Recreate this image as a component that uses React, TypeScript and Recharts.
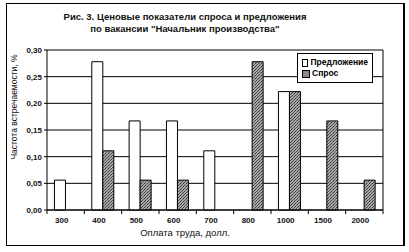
import React from "react";
import {
  BarChart,
  Bar,
  XAxis,
  YAxis,
  CartesianGrid,
} from "recharts";

const categories = ["300", "400", "500", "600", "700", "800", "1000", "1500", "2000"];
const supply = [0.056, 0.278, 0.167, 0.167, 0.111, null, 0.222, null, null];
const demand = [null, 0.111, 0.056, 0.056, null, 0.278, 0.222, 0.167, 0.056];
const yTicks = [0, 0.05, 0.1, 0.15, 0.2, 0.25, 0.3];
const boundaryTicks = [0, 1, 2, 3, 4, 5, 6, 7, 8, 9];

const FONT = '"Liberation Sans", Arial, sans-serif';

const data = categories.map((c, i) => ({
  cat: c,
  idx: i + 0.5,
  supply: supply[i],
  demand: demand[i],
}));

const fmt = (v: number) => v.toFixed(2).replace(".", ",");

export default function App() {
  return (
    <div style={{ position: "relative", width: 409, height: 252, background: "#fff" }}>
      <style>{"body{margin:0}"}</style>
      <div
        style={{
          position: "absolute",
          left: 6,
          top: 3,
          width: 396,
          height: 241,
          border: "1px solid #000",
          borderRightWidth: 2,
        }}
      />
      <div
        style={{
          position: "absolute",
          left: 0,
          top: 11,
          width: 370,
          textAlign: "center",
          fontFamily: FONT,
          fontSize: 9.5,
          fontWeight: "bold",
          lineHeight: "12px",
          color: "#111",
        }}
      >
        Рис. 3. Ценовые показатели спроса и предложения
        <br />
        по вакансии "Начальник производства"
      </div>
      <div
        style={{
          position: "absolute",
          left: 14,
          top: 107,
          transform: "translate(-50%, -50%) rotate(-90deg)",
          whiteSpace: "nowrap",
          fontFamily: FONT,
          fontSize: 8.5,
          color: "#111",
        }}
      >
        Частота встречаемости, %
      </div>
      <div
        style={{
          position: "absolute",
          left: 0,
          top: 227,
          width: 370,
          textAlign: "center",
          fontFamily: FONT,
          fontSize: 9.5,
          color: "#111",
        }}
      >
        Оплата труда, долл.
      </div>
      <div style={{ position: "absolute", left: 0, top: 0 }}>
        <BarChart
          width={409}
          height={252}
          data={data}
          margin={{ top: 50, right: 25, bottom: 0, left: 0 }}
          barCategoryGap="20%"
          barGap={0}
        >
          <defs>
            <pattern id="dots" width="3" height="3" patternUnits="userSpaceOnUse">
              <rect width="3" height="3" fill="#a8a8a8" />
              <rect x="0" y="0" width="1" height="1" fill="#333" />
              <rect x="2" y="1" width="1" height="1" fill="#555" />
              <rect x="1" y="2" width="1" height="1" fill="#444" />
            </pattern>
          </defs>
          <CartesianGrid xAxisId="c" vertical={false} stroke="#000" strokeWidth={1} />
          <XAxis
            xAxisId="a"
            dataKey="idx"
            type="number"
            domain={[0, 9]}
            ticks={boundaryTicks}
            tickFormatter={() => ""}
            height={1}
            tickSize={4}
            tickLine={{ stroke: "#000" }}
            axisLine={{ stroke: "#000" }}
            allowDataOverflow
          />
          <XAxis
            xAxisId="c"
            dataKey="cat"
            height={41}
            axisLine={false}
            tickLine={false}
            interval={0}
            tick={{ fontSize: 8, fontWeight: "bold", fill: "#111", fontFamily: FONT, dx: -4, dy: -2 }}
          />
          <YAxis
            width={47}
            domain={[0, 0.3]}
            ticks={yTicks}
            tickFormatter={fmt}
            tickSize={3}
            tickLine={{ stroke: "#000" }}
            axisLine={{ stroke: "#000" }}
            tick={{ fontSize: 8, fontWeight: "bold", fill: "#111", fontFamily: FONT }}
          />
          <YAxis
            yAxisId="r"
            orientation="right"
            width={1}
            domain={[0, 0.3]}
            tick={false}
            tickLine={false}
            axisLine={{ stroke: "#000" }}
          />
          <Bar
            xAxisId="c"
            dataKey="supply"
            name="Предложение"
            fill="#fff"
            stroke="#000"
            strokeWidth={1}
            isAnimationActive={false}
          />
          <Bar
            xAxisId="c"
            dataKey="demand"
            name="Спрос"
            fill="url(#dots)"
            stroke="#000"
            strokeWidth={1}
            isAnimationActive={false}
          />
        </BarChart>
      </div>
      <div
        style={{
          position: "absolute",
          left: 297,
          top: 53,
          border: "1px solid #000",
          background: "#fff",
          padding: "3px 4px",
          fontFamily: FONT,
          fontSize: 8.5,
          fontWeight: "bold",
          lineHeight: "11px",
          width: 66,
        }}
      >
        <div style={{ display: "flex", alignItems: "center", gap: 2 }}>
          <span style={{ width: 6, height: 6, border: "1px solid #000", background: "#fff" }} />
          Предложение
        </div>
        <div style={{ display: "flex", alignItems: "center", gap: 2 }}>
          <span style={{ width: 6, height: 6, border: "1px solid #000", background: "#8a8a8a" }} />
          Спрос
        </div>
      </div>
    </div>
  );
}
